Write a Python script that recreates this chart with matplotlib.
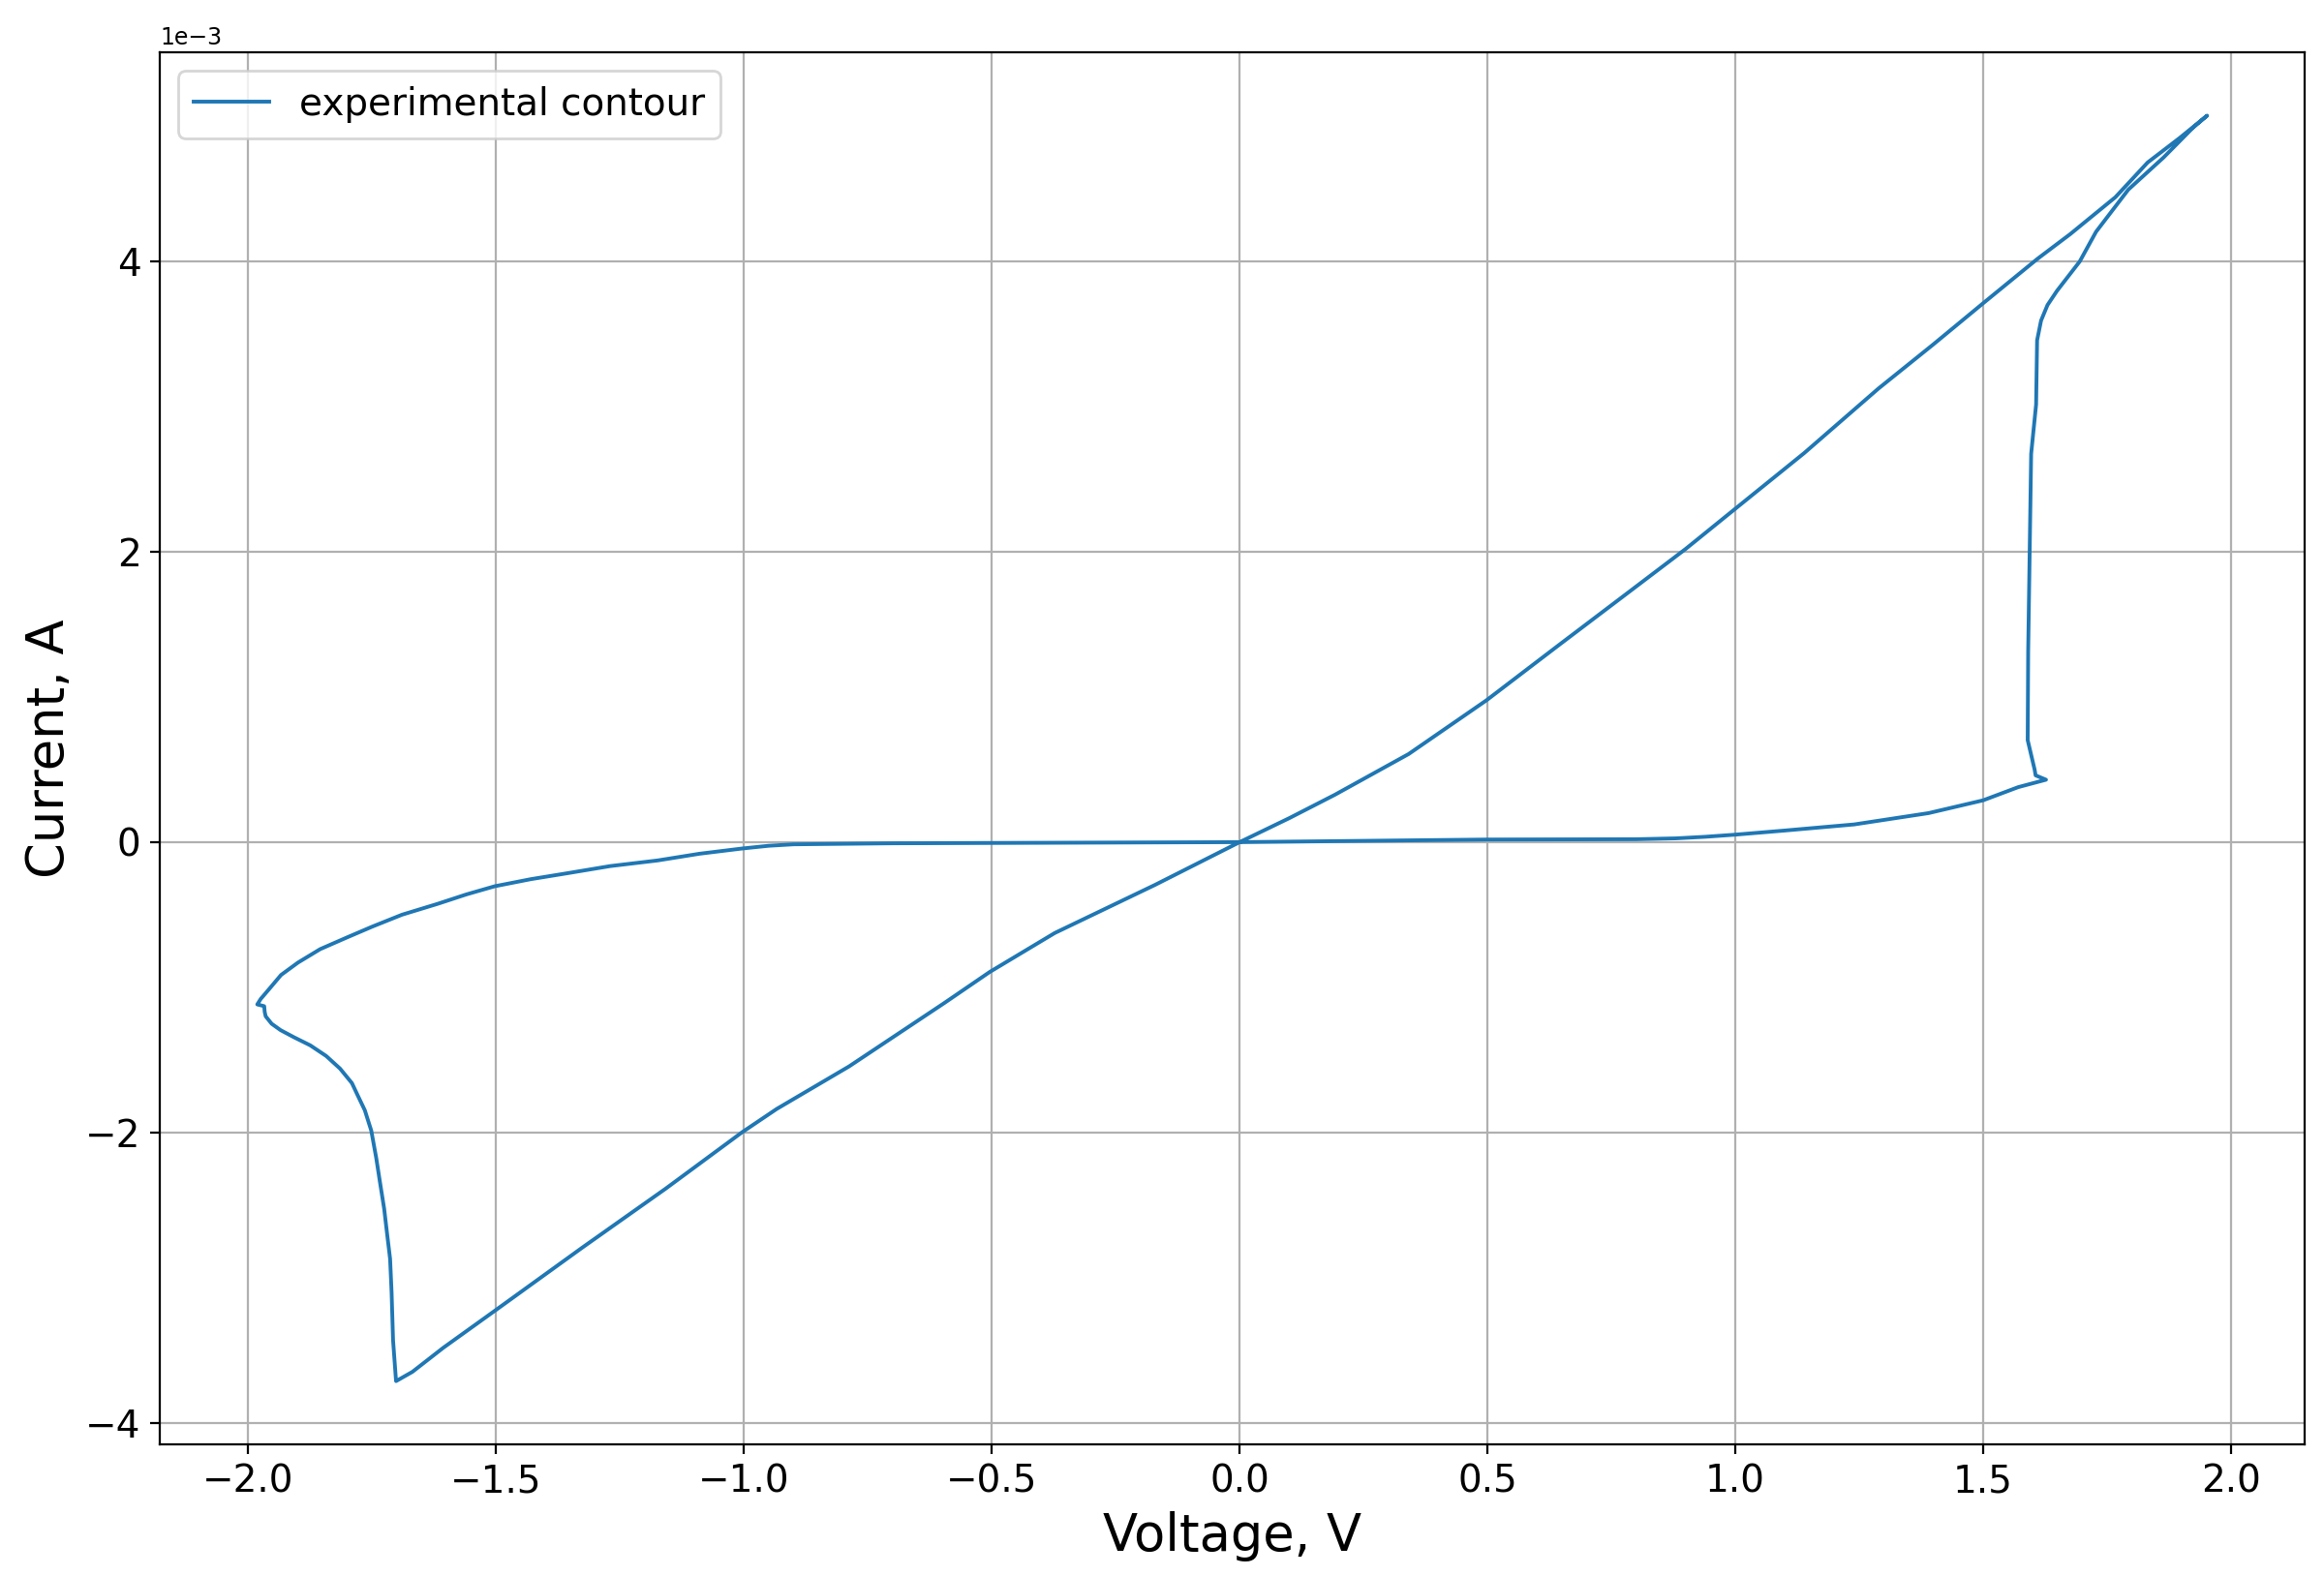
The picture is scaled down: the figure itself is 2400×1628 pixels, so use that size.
# -*- coding:utf-8 -*-
import numpy as np
import matplotlib
matplotlib.use('Agg')
import matplotlib.pyplot as plt

# contour, voltage in V, current in mA (closed loop)
voltage = [0.0, 0.5, 0.8, 0.88, 0.94, 0.998, 1.1, 1.24, 1.39, 1.5, 1.571, 1.627,
           1.606, 1.604, 1.59, 1.591, 1.594, 1.597, 1.607, 1.609, 1.617,
           1.63, 1.649, 1.695, 1.728, 1.793, 1.864, 1.923, 1.952,
           1.897, 1.832, 1.767, 1.676, 1.61, 1.5, 1.4, 1.289, 1.139, 0.998,
           0.9, 0.79, 0.64, 0.498, 0.341, 0.192, 0.1, 0.0,
           -0.171, -0.373, -0.504, -0.597, -0.788, -0.934, -1.004, -1.158,
           -1.327, -1.503, -1.607, -1.669, -1.702,
           -1.708, -1.711, -1.714, -1.72, -1.726, -1.735, -1.742, -1.752,
           -1.765, -1.78, -1.791, -1.815, -1.843, -1.875, -1.908, -1.935,
           -1.953, -1.965, -1.967, -1.968, -1.982,
           -1.975, -1.96, -1.934, -1.9, -1.855, -1.8, -1.75, -1.69, -1.619,
           -1.56, -1.503, -1.43, -1.358, -1.27, -1.174, -1.09, -1.004,
           -0.95, -0.9, -0.7, -0.35, 0.0]
current_ma = [0.0, 0.018, 0.02, 0.026, 0.037, 0.051, 0.08, 0.122, 0.2, 0.288, 0.379, 0.43,
              0.46, 0.5, 0.703, 1.315, 1.995, 2.675, 3.015, 3.457, 3.593,
              3.7, 3.797, 4.0, 4.205, 4.495, 4.716, 4.92, 5.005,
              4.852, 4.682, 4.443, 4.189, 4.019, 3.712, 3.43, 3.125, 2.68, 2.291,
              2.02, 1.735, 1.347, 0.977, 0.607, 0.326, 0.165, 0.0,
              -0.295, -0.626, -0.894, -1.111, -1.545, -1.838, -1.999, -2.387,
              -2.795, -3.229, -3.484, -3.649, -3.713,
              -3.433, -3.1, -2.871, -2.7, -2.525, -2.33, -2.175, -1.987,
              -1.847, -1.74, -1.66, -1.56, -1.473, -1.4, -1.344, -1.295,
              -1.251, -1.2, -1.17, -1.13, -1.118,
              -1.08, -1.02, -0.915, -0.83, -0.737, -0.655, -0.582, -0.5, -0.426,
              -0.36, -0.304, -0.255, -0.215, -0.165, -0.126, -0.08, -0.044,
              -0.025, -0.015, -0.008, -0.004, 0.0]

x = np.array(voltage)
y = np.array(current_ma) * 1e-3

fig = plt.figure(figsize=(12, 8.14), dpi=200)
ax = fig.add_axes([0.06875, 0.0835, 0.9229, 0.8833])

ax.plot(x, y, color='#1f77b4', lw=1.4, label='experimental contour')
ax.grid(True)

ax.ticklabel_format(axis='y', style='sci', scilimits=(0, 0))
ax.set_xlabel('Voltage, V', fontsize=19)
ax.set_ylabel('Current, A', fontsize=19)
ax.tick_params(labelsize=14)
ax.yaxis.get_offset_text().set_fontsize(8.5)
ax.legend(loc='upper left', fontsize=14)

fig.savefig('out.png', dpi=200)
